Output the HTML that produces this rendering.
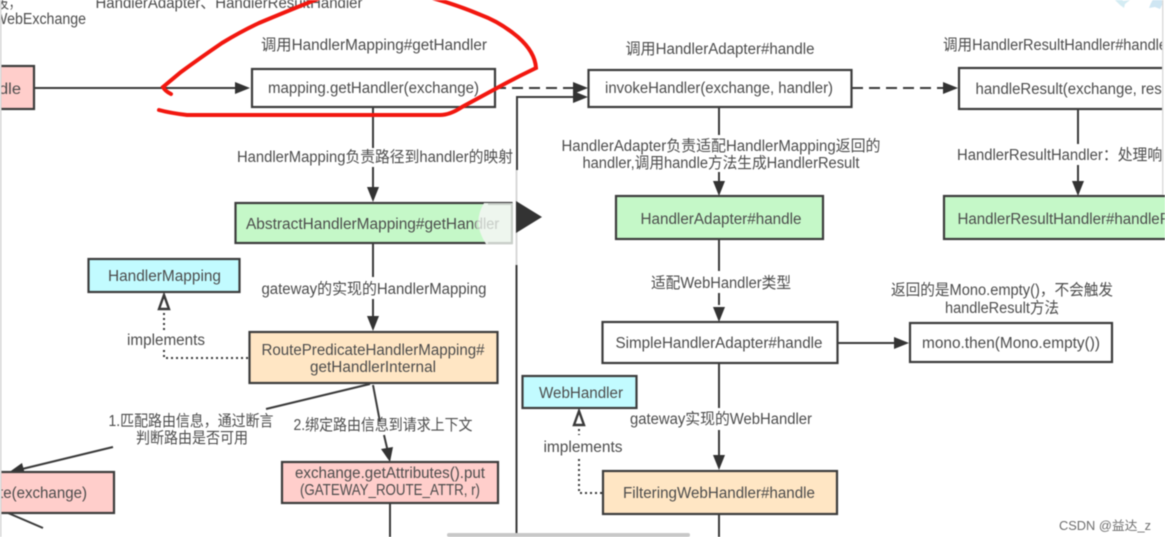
<!DOCTYPE html>
<html><head><meta charset="utf-8">
<style>
html,body{margin:0;padding:0;background:#fff;width:1165px;height:537px;overflow:hidden}
svg{display:block;filter:blur(.6px)}
text{font-family:"Liberation Sans","Noto Sans CJK SC",sans-serif;font-size:15.5px;fill:#4c4c4c;text-anchor:middle}
.b{stroke:#3c3c3c;stroke-width:2.2}
.l{stroke:#3a3a3a;stroke-width:2;fill:none}
.a{fill:#333;stroke:none}
</style></head><body>
<svg width="1165" height="537" viewBox="0 0 1165 537" xmlns="http://www.w3.org/2000/svg">
<rect width="1165" height="537" fill="#fff"/>

<!-- top stars -->
<polygon points="1120,-6 1123,1 1130,0 1125,4 1124,8 1120,5 1115,0" fill="#d4ecf3"/>
<polygon points="1155,-4 1159,0 1167,0 1162,5 1160,9 1155,7 1149,8 1151,3" fill="#cfe6f3"/>

<!-- connectors -->
<path class="l" d="M31,88H240"/><polygon class="a" points="250,88 235,82 235,94"/>
<path class="l" d="M495,88H578" stroke-dasharray="11 6"/><polygon class="a" points="588,88 573,82 573,94"/>
<path class="l" d="M517,170V97H578"/><polygon class="a" points="588,97 573,91 573,103"/>
<path d="M516.500,170V265" stroke="#d8d8d8" stroke-width="2" fill="none"/>
<path class="l" d="M516.500,265V537"/>
<path class="l" d="M373,108V148M373,167V190"/><polygon class="a" points="373,202 367,187 379,187"/>
<path class="l" d="M373,243V277M373,299V322"/><polygon class="a" points="373,331 367,316 379,316"/>
<path class="l" d="M370,384L266,409M113,447L18,470"/><polygon class="a" points="8,473 22,463 25,474"/>
<path class="l" d="M373,385L380,422M384,435L388,452"/><polygon class="a" points="390,462 381,449 393,447"/>
<path class="l" d="M390,504V537"/>
<path class="l" d="M8,513L43,528"/>
<path d="M164,313V330M164,350V358H249" stroke="#3a3a3a" stroke-width="2" stroke-dasharray="2 3" fill="none"/>
<polygon points="164,295 159,309 169,309" fill="#fff" stroke="#3a3a3a" stroke-width="2.400"/>
<path class="l" d="M719,108V135M719,172V187"/><polygon class="a" points="719,196 713,181 725,181"/>
<path class="l" d="M719,239V271M719,293V305"/><polygon class="a" points="719,322 713,307 725,307"/>
<path class="l" d="M719,363V408M719,430V455"/><polygon class="a" points="719,470 713,455 725,455"/>
<path class="l" d="M719,514V537"/>
<path class="l" d="M852,88H945" stroke-dasharray="11 6"/><polygon class="a" points="958,88 943,82 943,94"/>
<path class="l" d="M1078,109V144M1078,165V183"/><polygon class="a" points="1078,196 1072,181 1084,181"/>
<path class="l" d="M838,343H897"/><polygon class="a" points="909,343 894,337 894,349"/>
<path d="M579,429V435M579,459V493H603" stroke="#3a3a3a" stroke-width="2" stroke-dasharray="2 3" fill="none"/>
<polygon points="579,411 574,425 584,425" fill="#fff" stroke="#3a3a3a" stroke-width="2.400"/>

<!-- boxes -->
<rect class="b" x="-5" y="66" width="39" height="43" fill="#ffcecb"/>
<rect class="b" x="252" y="69" width="243" height="38" fill="#fff"/>
<rect class="b" x="588.500" y="70" width="263" height="37" fill="#fff"/>
<rect class="b" x="959" y="68" width="220" height="41" fill="#fff"/>
<rect class="b" x="235.500" y="203" width="276" height="40" fill="#c5f8c8"/>
<rect class="b" x="616" y="196" width="207" height="43" fill="#c5f8c8"/>
<rect class="b" x="944" y="196" width="240" height="43" fill="#c5f8c8"/>
<rect class="b" x="88.500" y="259" width="151" height="33" fill="#c2fbff"/>
<rect class="b" x="249.500" y="332" width="248" height="51" fill="#ffe6c4"/>
<rect class="b" x="-5" y="472" width="119" height="41" fill="#ffcecb"/>
<rect class="b" x="282" y="462" width="216" height="41" fill="#ffcecb"/>
<rect class="b" x="602.500" y="322" width="235" height="41" fill="#fff"/>
<rect class="b" x="910" y="323" width="202" height="39" fill="#fff"/>
<rect class="b" x="522.500" y="376" width="114" height="32" fill="#c2fbff"/>
<rect class="b" x="603" y="471" width="234" height="43" fill="#ffe6c4"/>

<!-- top cut-off labels -->
<text x="229" y="8" textLength="267" lengthAdjust="spacingAndGlyphs">HandlerAdapter、HandlerResultHandler</text>
<text x="9" y="8" textLength="22" lengthAdjust="spacingAndGlyphs">发，</text>
<text x="40" y="24" textLength="92" lengthAdjust="spacingAndGlyphs">WebExchange</text>

<!-- box labels -->
<text x="10" y="94" textLength="22" lengthAdjust="spacingAndGlyphs">dle</text>
<text x="373.500" y="93" textLength="211" lengthAdjust="spacingAndGlyphs">mapping.getHandler(exchange)</text>
<text x="719" y="93" textLength="228" lengthAdjust="spacingAndGlyphs">invokeHandler(exchange, handler)</text>
<text x="1079" y="94" textLength="207" lengthAdjust="spacingAndGlyphs">handleResult(exchange, result)</text>
<text x="373" y="229" textLength="254" lengthAdjust="spacingAndGlyphs">AbstractHandlerMapping#getHandler</text>
<text x="721" y="224" textLength="161" lengthAdjust="spacingAndGlyphs">HandlerAdapter#handle</text>
<text x="1080" y="224" textLength="245" lengthAdjust="spacingAndGlyphs">HandlerResultHandler#handleResult</text>
<text x="164.500" y="281" textLength="113" lengthAdjust="spacingAndGlyphs">HandlerMapping</text>
<text x="373" y="355" textLength="223" lengthAdjust="spacingAndGlyphs">RoutePredicateHandlerMapping#</text>
<text x="373" y="372" textLength="126" lengthAdjust="spacingAndGlyphs">getHandlerInternal</text>
<text x="43" y="498" textLength="88" lengthAdjust="spacingAndGlyphs">te(exchange)</text>
<text x="390" y="478" textLength="190" lengthAdjust="spacingAndGlyphs">exchange.getAttributes().put</text>
<text x="390" y="495" textLength="180" lengthAdjust="spacingAndGlyphs">(GATEWAY_ROUTE_ATTR, r)</text>
<text x="719" y="348" textLength="207" lengthAdjust="spacingAndGlyphs">SimpleHandlerAdapter#handle</text>
<text x="1011" y="348" textLength="178" lengthAdjust="spacingAndGlyphs">mono.then(Mono.empty())</text>
<text x="581" y="398" textLength="84" lengthAdjust="spacingAndGlyphs">WebHandler</text>
<text x="719" y="498" textLength="192" lengthAdjust="spacingAndGlyphs">FilteringWebHandler#handle</text>

<!-- edge labels -->
<text x="374" y="50" textLength="226" lengthAdjust="spacingAndGlyphs">调用HandlerMapping#getHandler</text>
<text x="720" y="54" textLength="189" lengthAdjust="spacingAndGlyphs">调用HandlerAdapter#handle</text>
<text x="1055" y="50" textLength="224" lengthAdjust="spacingAndGlyphs">调用HandlerResultHandler#handle</text>
<text x="375" y="162" textLength="276" lengthAdjust="spacingAndGlyphs">HandlerMapping负责路径到handler的映射</text>
<text x="721" y="151" textLength="319" lengthAdjust="spacingAndGlyphs">HandlerAdapter负责适配HandlerMapping返回的</text>
<text x="721" y="168" textLength="277" lengthAdjust="spacingAndGlyphs">handler,调用handle方法生成HandlerResult</text>
<text x="1067" y="160" textLength="220" lengthAdjust="spacingAndGlyphs">HandlerResultHandler：处理响应</text>
<text x="374" y="294" textLength="225" lengthAdjust="spacingAndGlyphs">gateway的实现的HandlerMapping</text>
<text x="166" y="345" textLength="78" lengthAdjust="spacingAndGlyphs">implements</text>
<text x="191" y="426" textLength="165" lengthAdjust="spacingAndGlyphs">1.匹配路由信息，通过断言</text>
<text x="192" y="443" textLength="112" lengthAdjust="spacingAndGlyphs">判断路由是否可用</text>
<text x="383" y="430" textLength="179" lengthAdjust="spacingAndGlyphs">2.绑定路由信息到请求上下文</text>
<text x="721" y="288" textLength="140" lengthAdjust="spacingAndGlyphs">适配WebHandler类型</text>
<text x="1002" y="295" textLength="222" lengthAdjust="spacingAndGlyphs">返回的是Mono.empty()，不会触发</text>
<text x="1002" y="313" textLength="114" lengthAdjust="spacingAndGlyphs">handleResult方法</text>
<text x="721" y="424" textLength="182" lengthAdjust="spacingAndGlyphs">gateway实现的WebHandler</text>
<text x="583" y="452" textLength="79" lengthAdjust="spacingAndGlyphs">implements</text>

<!-- player overlay -->
<path d="M512,203H484Q472,223 486,244H512Z" fill="#f0f6f0" opacity=".95"/>
<path d="M488,204H512V243H488" fill="none" stroke="#c9cfc9" stroke-width="2"/>
<text x="487" y="229" textLength="24" lengthAdjust="spacingAndGlyphs" style="fill:#c8cec8">dler</text>
<polygon points="516,201 542,217 516,233" fill="#333"/>

<!-- red freehand annotation -->
<path d="M159,110Q170,113 187,115H440Q450,115 462,107L497,88Q515,78 536,68Q535,52 518,37Q500,22 481,15Q455,4 425,-4" fill="none" stroke="#f2170f" stroke-width="4" stroke-linecap="round"/>
<path d="M325,-4Q290,10 259,23Q240,32 222,43Q200,58 181,72L163,87Q165,91 171,94" fill="none" stroke="#f2170f" stroke-width="4" stroke-linecap="round"/>

<!-- window edges -->
<rect x="0" y="0" width="1.500" height="537" fill="#d6d6d6"/>
<rect x="1162" y="0" width="3" height="195" fill="#fff"/>
<rect x="1162" y="0" width="1.500" height="195" fill="#dcdcdc"/>
<rect x="447" y="533" width="243" height="4" rx="2" fill="#c8c8c8"/>

<!-- watermark -->
<text x="1105" y="530" textLength="92" lengthAdjust="spacingAndGlyphs" style="font-size:12.5px;fill:#6d6d6d">CSDN @益达_z</text>
</svg>
</body></html>
